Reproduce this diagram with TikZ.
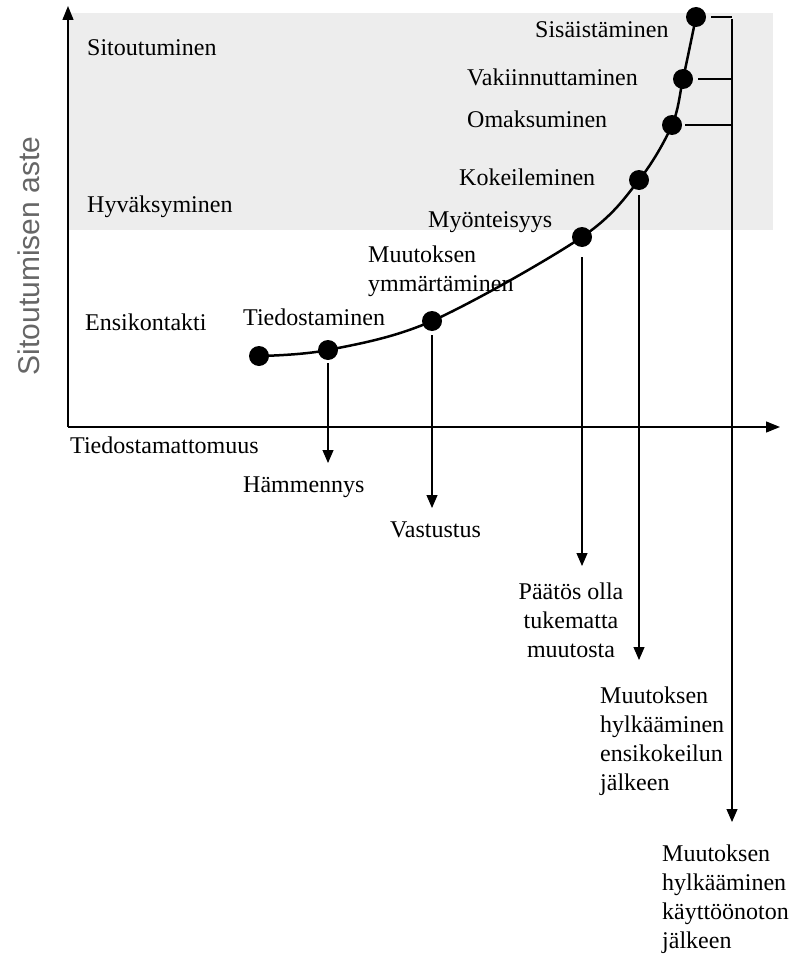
\documentclass[tikz,border=0pt]{standalone}
\usepackage{fontspec}
\setmainfont{Liberation Serif}
\setsansfont{Liberation Sans}
\usepackage{tikz}
\usetikzlibrary{arrows.meta}

\begin{document}
\begin{tikzpicture}[x=1pt, y=-1pt]
		\tikzset{dot/.style={shape = circle, fill, inner sep = 0pt, minimum size = 20pt}}
		\tikzset{lab/.style={font=\fontsize{24}{29}\selectfont, inner sep = 0pt, anchor = base west}}
		\tikzset{arr/.style={line width = 1.1pt, -{Triangle[length=13pt, width=11pt]}}}
		\useasboundingbox (0,0) rectangle (798,955);
		%band
		\fill[gray!14] (68,13) rectangle (773,230);
		%axes
		\coordinate (o) at (68,427);
		\coordinate (ytop) at (68,6);
		\coordinate (xend) at (780,427);
		\draw[line width = 1.3pt, -{Triangle[length=14pt, width=11pt]}] (o) -- (ytop);
		\draw[line width = 1.3pt, -{Triangle[length=14pt, width=11pt]}] (o) -- (xend);
		\node[font=\sffamily\fontsize{30}{30}\selectfont, text=black!60, rotate=90] (yl) at (29,256) {Sitoutumisen aste};
		%levels
		\node[lab] (sit) at (87,56) {Sitoutuminen};
		\node[lab] (hyv) at (87,212) {Hyväksyminen};
		\node[lab] (ens) at (85,330) {Ensikontakti};
		\node[lab] (tdm) at (70,453) {Tiedostamattomuus};
		%vertices
		\node[dot] (ensi) at (259,356) {};
		\node[dot] (tied) at (328,350) {};
		\node[dot] (ymm) at (432,321) {};
		\node[dot] (myon) at (582,237) {};
		\node[dot] (koke) at (639,180) {};
		\node[dot] (omak) at (672,125) {};
		\node[dot] (vaki) at (683,79) {};
		\node[dot] (sisa) at (696,17) {};
		%curve
		\draw[line width = 2.5pt] plot[smooth, tension=0.55] coordinates {(ensi.center) (tied.center) (ymm.center) (myon.center) (koke.center) (omak.center) (vaki.center) (sisa.center)};
		%stage labels (multi-line ones sit on their last line)
		\node[lab] (ltied) at (243,325) {Tiedostaminen};
		\node[lab, align=left] (lymm) at (368,291) {Muutoksen\\ymmärtäminen};
		\node[lab] (lmyon) at (428,227) {Myönteisyys};
		\node[lab] (lkoke) at (459,185) {Kokeileminen};
		\node[lab] (lomak) at (467,128) {Omaksuminen};
		\node[lab] (lvaki) at (467,86) {Vakiinnuttaminen};
		\node[lab] (lsisa) at (535,38) {Sisäistäminen};
		%drop outs
		\coordinate (hamE) at (328,463);
		\coordinate (vasE) at (432,508);
		\coordinate (paaE) at (582,566);
		\coordinate (kokE) at (639,660);
		\coordinate (brtop) at (732,19);
		\coordinate (brend) at (732,822);
		\draw[arr, shorten <= 3pt] (tied) -- (hamE);
		\draw[arr, shorten <= 4pt] (ymm) -- (vasE);
		\draw[arr, shorten <= 10pt] (myon) -- (paaE);
		\draw[arr, shorten <= 5pt] (koke) -- (kokE);
		\draw[line width = 1.1pt] ([xshift=5pt]sisa.east) -- (sisa -| brtop);
		\draw[line width = 1.1pt] ([xshift=5pt]vaki.east) -- (vaki -| brtop);
		\draw[line width = 1.1pt] ([xshift=3pt]omak.east) -- (omak -| brtop);
		\draw[arr] (brtop) -- (brend);
		\node[lab] (lham) at (243,492) {Hämmennys};
		\node[lab] (lvas) at (390,537) {Vastustus};
		\node[lab, align=center, anchor=base] (lpaa) at (571,657) {Päätös olla\\tukematta\\muutosta};
		\node[lab, align=left] (lhyl1) at (600,790) {Muutoksen\\hylkääminen\\ensikokeilun\\jälkeen};
		\node[lab, align=left] (lhyl2) at (662,948) {Muutoksen\\hylkääminen\\käyttöönoton\\jälkeen};
\end{tikzpicture}
\end{document}
